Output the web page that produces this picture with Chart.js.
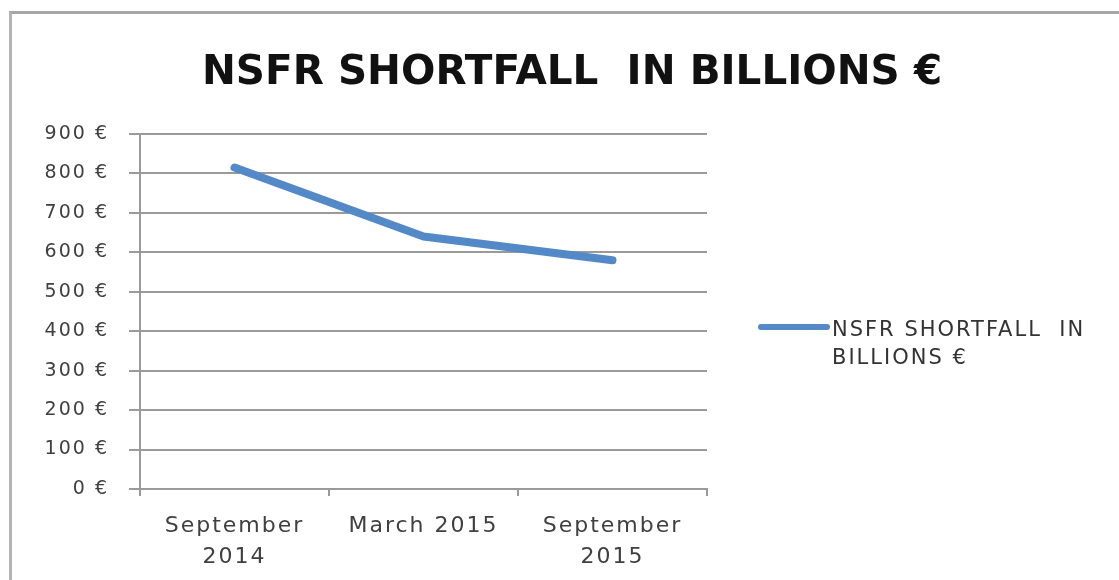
<!DOCTYPE html>
<html lang="en">
  <head>
    <meta charset="UTF-8" />
    <title>NSFR Shortfall</title>
    <script src="https://cdn.jsdelivr.net/npm/chart.js"></script>
    <style>
      html, body {
        margin: 0;
        padding: 0;
        background: #fff;
        overflow: hidden;
      }
      .wrap {
        position: relative;
        width: 1119px;
        height: 580px;
      }
      .frame {
        position: absolute;
        left: 9px;
        top: 11px;
        width: 1200px;
        height: 700px;
        border-left: 3px solid #b3b3b3;
        border-top: 3px solid #a6a6a6;
      }
      .title {
        position: absolute;
        left: 0;
        top: 50px;
        width: 1144px;
        text-align: center;
        font-family: 'DejaVu Sans', sans-serif;
        font-weight: bold;
        font-size: 40.5px;
        line-height: 41px;
        color: #111;
        white-space: pre;
      }
      .legend {
        position: absolute;
        left: 758px;
        top: 315px;
        font-family: 'DejaVu Sans', sans-serif;
        font-size: 21px;
        line-height: 28px;
        color: #333;
        letter-spacing: 2px;
      }
      .legend .swatch {
        position: absolute;
        left: 0;
        top: 9px;
        width: 72px;
        height: 6px;
        border-radius: 3px;
        background: #5389c7;
      }
      .legend .text {
        margin-left: 74px;
        white-space: pre;
      }
      #chart {
        position: absolute;
        left: 0;
        top: 0;
      }
    </style>
  </head>
  <body>
    <div class="wrap">
      <div class="frame"></div>
      <canvas id="chart" width="1119" height="580"></canvas>
      <div class="title" id="title"></div>
      <div class="legend"><div class="swatch"></div><div class="text" id="legendText"></div></div>
    </div>

    <script>
      const chartTitle = 'NSFR SHORTFALL  IN BILLIONS €';
      const periods = [['September', '2014'], 'March 2015', ['September', '2015']];
      const shortfall = [815, 640, 580];
      const yTicks = [0, 100, 200, 300, 400, 500, 600, 700, 800, 900];

      document.getElementById('title').textContent = chartTitle;
      document.getElementById('legendText').textContent = 'NSFR SHORTFALL  IN\nBILLIONS €';

      const gridColor = '#9a9a9a';

      // wider letter spacing to mimic the stretched look of the source
      const spacing = {
        id: 'spacing',
        beforeLayout(chart) { chart.ctx.letterSpacing = '2px'; },
        beforeDraw(chart) { chart.ctx.letterSpacing = '2px'; },
      };

      new Chart(document.getElementById('chart'), {
        type: 'line',
        data: {
          labels: periods,
          datasets: [
            {
              label: chartTitle,
              data: shortfall,
              borderColor: '#5389c7',
              borderWidth: 8,
              borderCapStyle: 'round',
              borderJoinStyle: 'round',
              pointRadius: 0,
              tension: 0,
            },
          ],
        },
        options: {
          responsive: false,
          animation: false,
          layout: { padding: { top: 134, right: 412, left: 0, bottom: 0 } },
          plugins: {
            legend: { display: false },
            title: { display: false },
            tooltip: { enabled: false },
          },
          scales: {
            x: {
              offset: true,
              afterFit(scale) { scale.height = 91; },
              border: { color: gridColor, width: 2 },
              grid: {
                offset: true,
                drawOnChartArea: false,
                drawTicks: true,
                tickLength: 7,
                color: gridColor,
                lineWidth: 2,
              },
              ticks: {
                padding: 15,
                color: '#404040',
                font: { family: 'DejaVu Sans', size: 22, lineHeight: 1.4 },
                maxRotation: 0,
              },
            },
            y: {
              min: 0,
              max: 900,
              afterFit(scale) { scale.width = 140; },
              afterBuildTicks(scale) { scale.ticks = yTicks.map((v) => ({ value: v })); },
              border: { color: gridColor, width: 2 },
              grid: {
                color: gridColor,
                lineWidth: 2,
                drawTicks: true,
                tickLength: 11,
              },
              ticks: {
                padding: 20,
                color: '#404040',
                font: { family: 'DejaVu Sans', size: 19 },
                callback: (v) => v + ' €',
              },
            },
          },
        },
        plugins: [spacing],
      });
    </script>
  </body>
</html>
